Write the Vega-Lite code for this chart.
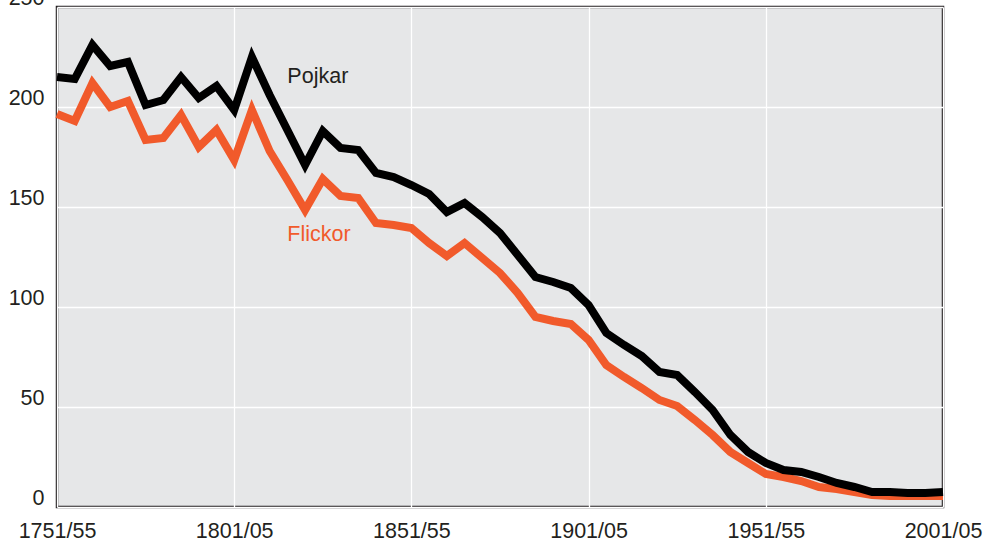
{
  "$schema": "https://vega.github.io/schema/vega-lite/v6.json",
  "autosize": {"type": "none"},
  "padding": {"left": 57, "top": 7, "right": 41, "bottom": 34},
  "width": 886,
  "height": 500,
  "background": "#ffffff",
  "config": {
    "view": {"fill": "#e6e7e8", "stroke": "#231f20", "strokeWidth": 2.5},
    "font": "Liberation Sans",
    "axis": {"labelFont": "Liberation Sans", "labelFontSize": 21.5, "labelColor": "#231f20", "domain": false, "ticks": false, "gridColor": "#ffffff", "gridWidth": 1.3, "gridOpacity": 1, "title": null}
  },
  "datasets": {
    "rates": [
      {"period": "1751/55", "pojkar": 215, "flickor": 196.5},
      {"period": "1756/60", "pojkar": 214, "flickor": 193},
      {"period": "1761/65", "pojkar": 231, "flickor": 212},
      {"period": "1766/70", "pojkar": 220.5, "flickor": 200},
      {"period": "1771/75", "pojkar": 222.5, "flickor": 203},
      {"period": "1776/80", "pojkar": 201, "flickor": 183.5},
      {"period": "1781/85", "pojkar": 203.5, "flickor": 184.5},
      {"period": "1786/90", "pojkar": 215, "flickor": 196},
      {"period": "1791/95", "pojkar": 204.5, "flickor": 180},
      {"period": "1796/1800", "pojkar": 210.5, "flickor": 188.5},
      {"period": "1801/05", "pojkar": 198.5, "flickor": 173.5},
      {"period": "1806/10", "pojkar": 225, "flickor": 198.5},
      {"period": "1811/15", "pojkar": 206, "flickor": 178},
      {"period": "1816/20", "pojkar": 188.5, "flickor": 163.5},
      {"period": "1821/25", "pojkar": 171, "flickor": 148.5},
      {"period": "1826/30", "pojkar": 188, "flickor": 164},
      {"period": "1831/35", "pojkar": 179.5, "flickor": 155.5},
      {"period": "1836/40", "pojkar": 178.5, "flickor": 154.5},
      {"period": "1841/45", "pojkar": 167, "flickor": 142},
      {"period": "1846/50", "pojkar": 165, "flickor": 141},
      {"period": "1851/55", "pojkar": 161, "flickor": 139.5},
      {"period": "1856/60", "pojkar": 156.5, "flickor": 132},
      {"period": "1861/65", "pojkar": 147.5, "flickor": 125.5},
      {"period": "1866/70", "pojkar": 152, "flickor": 132},
      {"period": "1871/75", "pojkar": 145, "flickor": 124.5},
      {"period": "1876/80", "pojkar": 137, "flickor": 117},
      {"period": "1881/85", "pojkar": 126, "flickor": 107},
      {"period": "1886/90", "pojkar": 115, "flickor": 95},
      {"period": "1891/95", "pojkar": 112.5, "flickor": 93},
      {"period": "1896/1900", "pojkar": 109.5, "flickor": 91.5},
      {"period": "1901/05", "pojkar": 101, "flickor": 83.5},
      {"period": "1906/10", "pojkar": 87, "flickor": 71},
      {"period": "1911/15", "pojkar": 81, "flickor": 65},
      {"period": "1916/20", "pojkar": 75.5, "flickor": 59.5},
      {"period": "1921/25", "pojkar": 67.5, "flickor": 53.5},
      {"period": "1926/30", "pojkar": 66, "flickor": 50.5},
      {"period": "1931/35", "pojkar": 57.5, "flickor": 43.5},
      {"period": "1936/40", "pojkar": 48.5, "flickor": 36},
      {"period": "1941/45", "pojkar": 36, "flickor": 27.5},
      {"period": "1946/50", "pojkar": 27.5, "flickor": 22},
      {"period": "1951/55", "pojkar": 22, "flickor": 16.5},
      {"period": "1956/60", "pojkar": 18.5, "flickor": 15},
      {"period": "1961/65", "pojkar": 17.5, "flickor": 13},
      {"period": "1966/70", "pojkar": 15, "flickor": 10},
      {"period": "1971/75", "pojkar": 12, "flickor": 9},
      {"period": "1976/80", "pojkar": 10, "flickor": 7.5},
      {"period": "1981/85", "pojkar": 7.5, "flickor": 6},
      {"period": "1986/90", "pojkar": 7.5, "flickor": 5.5},
      {"period": "1991/95", "pojkar": 7, "flickor": 5.5},
      {"period": "1996/2000", "pojkar": 7, "flickor": 5.5},
      {"period": "2001/05", "pojkar": 7.5, "flickor": 5.5}
    ],
    "labels": [
      {"period": "1816/20", "value": 212, "name": "Pojkar", "series": "pojkar"},
      {"period": "1816/20", "value": 133, "name": "Flickor", "series": "flickor"}
    ]
  },
  "encoding": {
    "x": {
      "field": "period", "type": "ordinal", "sort": null,
      "scale": {"type": "point", "padding": 0},
      "axis": {"values": ["1751/55", "1801/05", "1851/55", "1901/05", "1951/55", "2001/05"], "labelAngle": 0, "labelPadding": 13, "grid": true}
    }
  },
  "layer": [
    {
      "data": {"name": "rates"},
      "mark": {"type": "line", "color": "#f15a2b", "strokeWidth": 8, "strokeJoin": "miter", "strokeCap": "butt"},
      "encoding": {
        "y": {
          "field": "flickor", "type": "quantitative",
          "scale": {"domain": [0, 250], "nice": false, "zero": true},
          "axis": {"values": [0, 50, 100, 150, 200, 250], "labelPadding": 13, "labelBaseline": "alphabetic", "labelOffset": -2.5, "grid": true}
        }
      }
    },
    {
      "data": {"name": "rates"},
      "mark": {"type": "line", "color": "#000000", "strokeWidth": 8, "strokeJoin": "miter", "strokeCap": "butt"},
      "encoding": {
        "y": {"field": "pojkar", "type": "quantitative"}
      }
    },
    {
      "data": {"name": "labels"},
      "mark": {"type": "text", "align": "left", "baseline": "alphabetic", "fontSize": 21.5, "font": "Liberation Sans"},
      "encoding": {
        "y": {"field": "value", "type": "quantitative"},
        "text": {"field": "name", "type": "nominal"},
        "color": {"field": "series", "type": "nominal", "scale": {"domain": ["pojkar", "flickor"], "range": ["#231f20", "#f15a2b"]}, "legend": null}
      }
    }
  ]
}
